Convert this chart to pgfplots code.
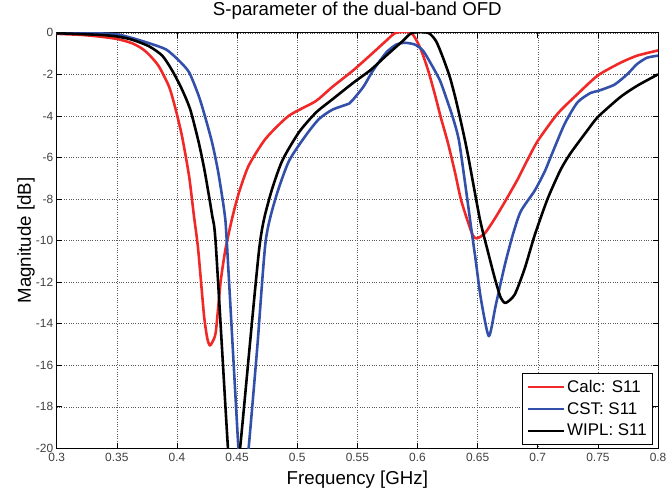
\documentclass[border=0pt]{standalone}
\usepackage{pgfplots}
\pgfplotsset{compat=1.18}
\usepackage{fontspec}
\setmainfont{Liberation Sans}
\definecolor{cred}{RGB}{240,40,40}
\definecolor{cblue}{RGB}{50,80,170}
\begin{document}
\begin{tikzpicture}
\begin{axis}[
  scale only axis,
  width=605pt, height=418pt,
  xmin=0.3, xmax=0.8, ymin=-20, ymax=0,
  xtick={0.3,0.35,...,0.8},
  xticklabels={0.3,0.35,0.4,0.45,0.5,0.55,0.6,0.65,0.7,0.75,0.8},
  ytick={-20,-18,...,0},
  /pgf/number format/assume math mode=true,
  tick label style={font=\fontsize{12}{14}\selectfont, text=black!75},
  xticklabel style={yshift=-1.5pt},
  grid=major,
  major grid style={dotted, black!65, line width=0.5pt},
  tick align=inside,
  major tick length=5pt,
  axis line style={line width=0.8pt},
  tick style={black, line width=0.6pt},
  title={S-parameter of the dual-band OFD},
  title style={at={(axis description cs:0.5,1.0263)}, anchor=base, font=\fontsize{18.8}{22}\selectfont},
  xlabel={Frequency [GHz]},
  xlabel style={at={(axis description cs:0.5,-0.0861)}, anchor=base, font=\fontsize{18.8}{22}\selectfont},
  ylabel={Magnitude [dB]},
  ylabel style={at={(axis description cs:-0.043,0.5)}, anchor=base, font=\fontsize{18.8}{22}\selectfont},
  legend style={at={(axis description cs:0.9917,0.0096)}, anchor=south east, draw=black, line width=0.8pt, fill=white,
    font=\fontsize{17}{20}\selectfont, inner xsep=4pt, inner ysep=4.5pt, row sep=4.5pt},
  legend cell align=left,
  legend image code/.code={\draw[#1] (0pt,0pt) -- (36pt,0pt);},
  every axis plot/.append style={line width=2.6pt, line join=round, smooth, tension=0.4},
]
\addplot[cred] coordinates {
(0.300,-0.05) (0.3202,-0.10) (0.3353,-0.18) (0.3505,-0.30) (0.3626,-0.50) (0.3707,-0.75)
(0.3768,-1.05) (0.3848,-1.6) (0.3935,-2.6) (0.399,-3.7) (0.4043,-5.0) (0.4101,-6.9)
(0.4141,-8.8) (0.4176,-10.4) (0.4225,-13.6) (0.4252,-14.7) (0.4273,-15.05) (0.4293,-14.9)
(0.4323,-14.4) (0.4363,-12.0) (0.4404,-10.4) (0.4460,-8.9) (0.4515,-7.7) (0.4596,-6.4)
(0.4737,-5.1) (0.4929,-4.0) (0.5151,-3.3) (0.5293,-2.6) (0.5467,-1.8) (0.5632,-0.95)
(0.574,-0.38) (0.582,0) (0.5947,0) (0.6022,-0.72) (0.6088,-1.8) (0.6146,-3.0)
(0.6195,-4.1) (0.6253,-5.3) (0.6311,-6.7) (0.636,-8.0) (0.6419,-9.1) (0.646,-9.75)
(0.6493,-9.9) (0.656,-9.65) (0.6642,-8.95) (0.6725,-8.15) (0.6833,-7.05) (0.6916,-6.1)
(0.7,-5.2) (0.7164,-3.9) (0.733,-2.95) (0.75,-2.05) (0.7685,-1.45) (0.7826,-1.1) (0.8,-0.85)
};
\addlegendentry{Calc: S11}
\addplot[cblue] coordinates {
(0.300,-0.02) (0.3353,-0.03) (0.3505,-0.08) (0.3626,-0.25) (0.3768,-0.5) (0.3909,-0.8)
(0.401,-1.3) (0.4101,-1.9) (0.4182,-3.05) (0.4232,-4.0) (0.4293,-5.3) (0.4343,-6.7)
(0.4394,-8.6) (0.4414,-10.0) (0.4509,-19.8) (0.4545,-23) (0.4596,-20) (0.4667,-15.2)
(0.4737,-10.06) (0.4818,-8.0) (0.4929,-6.2) (0.5070,-4.95) (0.5181,-4.15) (0.5293,-3.7)
(0.5434,-3.4) (0.5467,-3.2) (0.555,-2.6) (0.5632,-1.8) (0.574,-0.95) (0.5823,-0.57)
(0.5897,-0.48) (0.598,-0.57) (0.6046,-0.86) (0.6113,-1.5) (0.6187,-2.3) (0.6237,-3.1)
(0.6295,-4.1) (0.6345,-5.2) (0.6402,-7.5) (0.6444,-9.3) (0.6485,-11.0) (0.6527,-12.8)
(0.6593,-14.6) (0.6651,-13.1) (0.6725,-11.2) (0.6791,-9.75) (0.6858,-8.6) (0.6974,-7.6)
(0.7056,-6.7) (0.7106,-6.0) (0.7222,-4.4) (0.733,-3.35) (0.7437,-2.9) (0.75,-2.8)
(0.7636,-2.5) (0.7743,-2.0) (0.7826,-1.5) (0.7909,-1.2) (0.8,-1.1)
};
\addlegendentry{CST: S11}
\addplot[black] coordinates {
(0.300,-0.02) (0.3363,-0.1) (0.3505,-0.18) (0.3626,-0.33) (0.3768,-0.65) (0.3878,-1.1)
(0.3959,-1.8) (0.404,-2.7) (0.4111,-3.7) (0.4182,-5.3) (0.4232,-6.7) (0.4293,-8.8)
(0.4323,-10.2) (0.4422,-19.8) (0.4463,-23) (0.4525,-20) (0.4684,-10.4) (0.4767,-8.0)
(0.4872,-6.2) (0.5013,-4.8) (0.5154,-3.85) (0.5293,-3.2) (0.5467,-2.4) (0.5608,-1.8)
(0.574,-1.1) (0.588,-0.38) (0.5955,0) (0.6088,0) (0.6154,-0.4) (0.6212,-1.2)
(0.627,-2.15) (0.632,-3.25) (0.6377,-4.7) (0.642,-5.9) (0.6518,-8.95) (0.6584,-10.5)
(0.6642,-11.8) (0.6692,-12.75) (0.6733,-13.0) (0.6808,-12.6) (0.6891,-11.35) (0.6974,-9.75)
(0.7081,-8.0) (0.7189,-6.6) (0.7272,-5.8) (0.7412,-4.7) (0.75,-4.05) (0.7685,-3.1)
(0.7826,-2.55) (0.8,-2.0)
};
\addlegendentry{WIPL: S11}
\end{axis}
\pgfresetboundingbox
\path ([shift={(-57pt,-44pt)}]current axis.south west) rectangle ([shift={(10pt,33pt)}]current axis.north east);
\end{tikzpicture}
\end{document}
